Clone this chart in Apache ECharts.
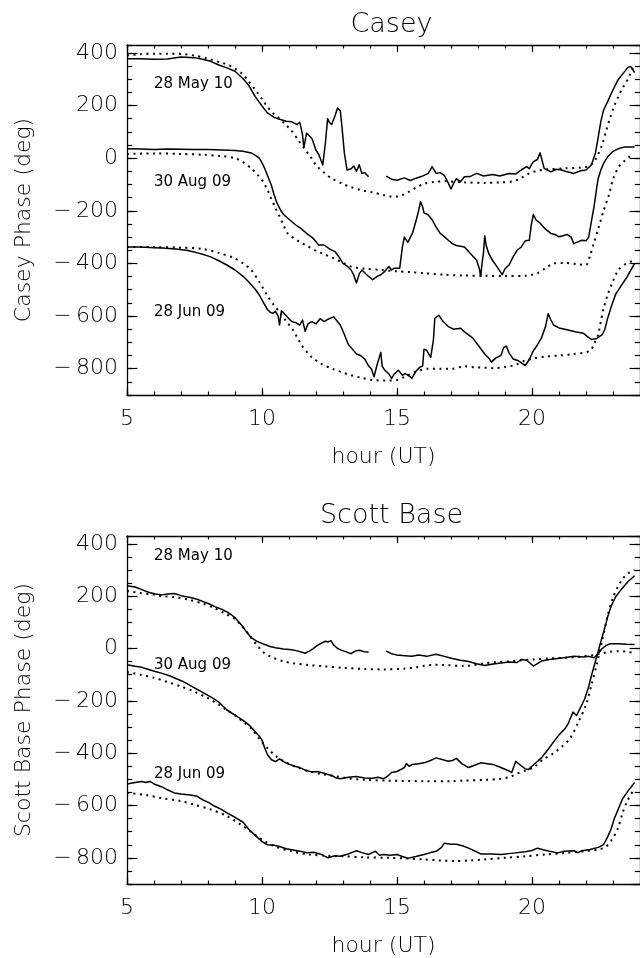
<!DOCTYPE html>
<html>
<head>
<meta charset="utf-8">
<title>Casey / Scott Base phase</title>
<script src="https://cdn.jsdelivr.net/npm/echarts@6.0.0/dist/echarts.min.js"></script>
<style>
  html, body { margin: 0; padding: 0; background: #fff; }
  #chart { width: 640px; height: 958px; }
</style>
</head>
<body>
<div id="chart"></div>
<script>
// ---- axis ranges ----
const hourRange = [5, 24];
const phaseRange = [-900, 430];

// ---- panel titles and labels ----
const panelTitles = ['Casey', 'Scott Base'];
const phaseNames = ['Casey Phase (deg)', 'Scott Base Phase (deg)'];
const hourName = 'hour (UT)';
const dateNames = ['28 May 10', '30 Aug 09', '28 Jun 09'];
// anchor of each date label: [hour, phase]
const caseyDateAnchors = [[6, 280], [6, -91], [6, -585]];
const scottDateAnchors = [[6, 353], [6, -63], [6, -480]];

// ---- Casey: observed phase (solid) and modelled phase (dotted), [hour, deg] ----
const caseyMay10 = [[5.0,378],[5.5,378],[6.0,376],[6.5,377],[7.0,384],[7.5,382],[7.8,376],[8.1,368],[8.4,354],[8.7,343],[9.0,330],[9.3,302],[9.5,278],[9.75,234],[10.0,198],[10.2,172],[10.45,155],[10.65,148],[10.9,140],[11.1,138],[11.3,128],[11.4,136],[11.5,90],[11.55,40],[11.65,95],[11.75,85],[11.85,75],[12.0,30],[12.1,15],[12.25,-26],[12.35,60],[12.43,150],[12.5,135],[12.58,128],[12.7,160],[12.8,191],[12.9,180],[12.97,110],[13.05,20],[13.15,-45],[13.3,-40],[13.4,-30],[13.5,-50],[13.6,-25],[13.7,-58],[13.8,-55],[13.95,-71],[14.2,null],[14.6,-68],[14.8,-80],[15.0,-84],[15.27,-75],[15.5,-85],[15.7,-76],[15.9,-70],[16.16,-58],[16.3,-32],[16.45,-58],[16.6,-55],[16.75,-65],[16.9,-95],[17.0,-117],[17.1,-95],[17.2,-78],[17.35,-90],[17.5,-71],[17.7,-70],[17.95,-58],[18.2,-68],[18.55,-62],[18.8,-68],[19.15,-58],[19.4,-60],[19.6,-45],[19.8,-32],[19.9,-40],[20.05,-13],[20.2,-5],[20.3,20],[20.45,-39],[20.7,-52],[20.9,-42],[21.1,-45],[21.3,-52],[21.55,-58],[21.8,-48],[22.0,-45],[22.2,-26],[22.35,20],[22.45,78],[22.55,140],[22.65,182],[22.8,215],[23.0,260],[23.2,300],[23.4,325],[23.55,345],[23.66,348],[23.8,325]];
const caseyMay10Model = [[5.0,390],[5.5,395],[6.0,397],[6.5,397],[7.0,396],[7.5,390],[8.0,378],[8.5,362],[8.7,357],[9.0,340],[9.3,318],[9.5,292],[9.75,260],[10.0,225],[10.2,195],[10.4,172],[10.65,150],[10.9,125],[11.1,104],[11.3,75],[11.55,39],[11.8,5],[12.0,-26],[12.3,-55],[12.6,-78],[13.0,-98],[13.3,-110],[13.7,-122],[14.1,-130],[14.5,-140],[14.8,-146],[15.0,-146],[15.2,-140],[15.4,-130],[15.7,-112],[16.0,-97],[16.4,-90],[16.75,-88],[17.5,-92],[18.25,-94],[18.8,-92],[19.3,-88],[19.6,-75],[19.9,-58],[20.2,-48],[20.5,-43],[21.2,-39],[21.8,-36],[22.1,-30],[22.3,-13],[22.45,15],[22.6,52],[22.75,105],[22.9,156],[23.05,200],[23.2,234],[23.35,266],[23.55,300],[23.7,335],[23.8,350]];
const caseyAug09 = [[5.0,36],[5.5,35],[6.0,33],[6.5,35],[7.0,34],[7.5,33],[8.0,33],[8.5,31],[9.0,29],[9.3,26],[9.6,20],[9.8,8],[9.9,0],[10.0,-18],[10.1,-39],[10.2,-65],[10.35,-104],[10.45,-140],[10.55,-169],[10.7,-200],[10.8,-214],[11.0,-232],[11.25,-254],[11.45,-268],[11.7,-290],[11.9,-305],[12.1,-330],[12.3,-330],[12.5,-345],[12.7,-355],[12.85,-375],[13.0,-400],[13.15,-410],[13.3,-425],[13.4,-445],[13.5,-474],[13.6,-440],[13.7,-425],[13.9,-445],[14.1,-462],[14.25,-450],[14.4,-443],[14.55,-430],[14.7,-412],[14.8,-425],[14.9,-418],[15.1,-418],[15.2,-338],[15.27,-300],[15.4,-320],[15.57,-286],[15.7,-240],[15.8,-200],[15.87,-165],[15.95,-185],[16.0,-208],[16.15,-215],[16.3,-234],[16.45,-262],[16.6,-286],[16.75,-298],[16.9,-312],[17.05,-325],[17.2,-332],[17.4,-336],[17.5,-338],[17.7,-360],[17.95,-388],[18.05,-420],[18.1,-449],[18.15,-400],[18.2,-363],[18.25,-295],[18.3,-330],[18.4,-363],[18.55,-390],[18.7,-412],[18.9,-443],[19.0,-420],[19.15,-406],[19.3,-375],[19.45,-350],[19.6,-338],[19.75,-314],[19.9,-312],[19.98,-250],[20.05,-214],[20.15,-235],[20.3,-247],[20.5,-270],[20.7,-286],[20.85,-290],[21.0,-299],[21.15,-295],[21.3,-290],[21.45,-300],[21.55,-325],[21.7,-318],[21.85,-312],[22.0,-314],[22.1,-300],[22.2,-240],[22.3,-182],[22.4,-110],[22.45,-78],[22.55,-45],[22.65,-20],[22.8,5],[23.0,26],[23.2,36],[23.4,42],[23.8,42]];
const caseyAug09Model = [[5.0,16],[6.0,18],[7.0,16],[7.8,13],[8.5,8],[9.0,0],[9.3,-15],[9.6,-39],[9.85,-65],[10.05,-91],[10.2,-120],[10.35,-156],[10.5,-190],[10.65,-221],[10.8,-255],[10.95,-286],[11.2,-305],[11.4,-318],[11.7,-335],[12.0,-352],[12.3,-365],[12.6,-378],[13.0,-398],[13.3,-412],[13.8,-420],[14.4,-425],[15.0,-430],[15.5,-433],[16.0,-437],[16.75,-443],[17.5,-446],[18.25,-447],[19.0,-448],[19.75,-447],[20.0,-443],[20.2,-437],[20.5,-418],[20.8,-400],[21.2,-398],[21.6,-402],[22.0,-406],[22.15,-370],[22.3,-320],[22.45,-270],[22.65,-200],[22.85,-140],[23.0,-80],[23.2,-35],[23.4,-13],[23.6,5],[23.8,13]];
const caseyJun09 = [[5.0,-338],[5.5,-338],[6.0,-340],[6.3,-341],[6.8,-345],[7.2,-350],[7.5,-357],[7.8,-365],[8.1,-375],[8.4,-390],[8.7,-406],[9.0,-425],[9.3,-449],[9.5,-470],[9.75,-498],[9.9,-520],[10.05,-548],[10.2,-575],[10.3,-585],[10.4,-590],[10.5,-582],[10.6,-600],[10.65,-634],[10.72,-580],[10.8,-588],[10.95,-605],[11.1,-621],[11.25,-625],[11.4,-634],[11.5,-615],[11.6,-658],[11.7,-630],[11.85,-621],[12.0,-630],[12.15,-610],[12.3,-621],[12.45,-612],[12.65,-603],[12.75,-615],[12.9,-634],[13.05,-670],[13.2,-708],[13.3,-720],[13.5,-744],[13.65,-750],[13.8,-763],[13.95,-790],[14.05,-800],[14.15,-831],[14.25,-790],[14.4,-738],[14.45,-790],[14.55,-806],[14.7,-820],[14.8,-837],[14.9,-820],[15.05,-806],[15.2,-825],[15.3,-818],[15.45,-828],[15.55,-837],[15.7,-810],[15.85,-794],[15.95,-790],[16.0,-726],[16.1,-730],[16.25,-757],[16.35,-690],[16.4,-609],[16.55,-597],[16.7,-620],[16.9,-640],[17.1,-650],[17.35,-646],[17.5,-660],[17.8,-683],[18.0,-710],[18.25,-744],[18.4,-760],[18.5,-775],[18.65,-760],[18.85,-750],[18.95,-720],[19.05,-714],[19.15,-740],[19.3,-763],[19.5,-770],[19.75,-788],[19.9,-765],[20.05,-732],[20.2,-710],[20.35,-683],[20.5,-640],[20.6,-591],[20.7,-615],[20.8,-634],[21.0,-645],[21.3,-652],[21.6,-660],[21.9,-665],[22.05,-678],[22.2,-689],[22.4,-685],[22.6,-671],[22.7,-650],[22.8,-609],[22.95,-560],[23.1,-517],[23.3,-485],[23.5,-455],[23.8,-400]];
const caseyJun09Model = [[5.0,-338],[6.0,-338],[7.0,-340],[7.8,-345],[8.4,-360],[9.0,-381],[9.3,-400],[9.6,-425],[9.9,-470],[10.2,-523],[10.45,-560],[10.65,-585],[10.9,-620],[11.1,-646],[11.3,-680],[11.45,-708],[11.65,-735],[11.85,-757],[12.2,-782],[12.6,-800],[13.0,-815],[13.3,-825],[13.7,-835],[14.1,-843],[14.6,-845],[15.0,-843],[15.3,-830],[15.55,-818],[15.85,-806],[16.15,-800],[16.6,-800],[17.05,-800],[17.5,-791],[17.9,-795],[18.25,-796],[18.6,-798],[19.0,-794],[19.4,-785],[19.75,-769],[20.1,-760],[20.5,-754],[21.0,-750],[21.5,-745],[22.15,-732],[22.3,-705],[22.45,-671],[22.55,-620],[22.65,-572],[22.8,-520],[22.95,-480],[23.2,-425],[23.5,-400],[23.8,-388]];

// ---- Scott Base: observed phase (solid) and modelled phase (dotted), [hour, deg] ----
const scottMay10 = [[5.0,240],[5.3,235],[5.55,225],[5.8,215],[6.05,208],[6.3,205],[6.5,208],[6.75,210],[7.0,202],[7.35,195],[7.6,188],[7.8,180],[8.05,170],[8.25,160],[8.5,150],[8.7,140],[8.85,130],[9.0,118],[9.15,100],[9.3,82],[9.45,60],[9.6,42],[9.8,28],[10.05,17],[10.3,8],[10.5,3],[10.8,-2],[11.1,-5],[11.35,-10],[11.6,-18],[11.75,-10],[11.9,0],[12.05,12],[12.2,20],[12.35,28],[12.45,25],[12.55,30],[12.65,14],[12.8,0],[12.95,-7],[13.1,-12],[13.3,-20],[13.45,-10],[13.6,-7],[13.8,-12],[13.95,-14],[14.2,null],[14.6,-10],[14.8,-20],[15.0,-25],[15.3,-28],[15.55,-30],[15.8,-25],[16.1,-30],[16.45,-22],[16.75,-30],[17.05,-38],[17.35,-45],[17.65,-50],[17.95,-58],[18.25,-65],[18.5,-60],[18.85,-55],[19.15,-52],[19.45,-53],[19.6,-42],[19.8,-45],[20.05,-67],[20.2,-58],[20.35,-48],[20.65,-42],[20.95,-38],[21.25,-34],[21.55,-30],[21.9,-32],[22.1,-30],[22.3,-35],[22.45,-20],[22.6,0],[22.75,12],[22.9,18],[23.2,18],[23.5,16],[23.8,15]];
const scottMay10Model = [[5.0,220],[5.5,212],[6.0,206],[6.3,200],[6.8,196],[7.35,185],[7.8,172],[8.25,154],[8.6,135],[9.0,112],[9.3,80],[9.6,42],[9.8,15],[10.05,-14],[10.4,-35],[10.8,-49],[11.2,-57],[11.7,-63],[12.3,-68],[13.0,-74],[13.8,-78],[14.5,-80],[15.27,-77],[15.7,-72],[16.0,-66],[16.4,-62],[16.75,-63],[17.5,-67],[18.25,-56],[18.7,-52],[19.15,-49],[19.6,-45],[20.05,-42],[20.6,-38],[21.25,-35],[21.7,-32],[22.0,-28],[22.3,-25],[22.6,-18],[22.9,-12],[23.2,-10],[23.5,-12],[23.8,-18]];
const scottAug09 = [[5.0,-62],[5.3,-68],[5.55,-72],[5.8,-80],[6.05,-88],[6.3,-95],[6.6,-105],[7.05,-125],[7.4,-145],[7.8,-168],[8.1,-185],[8.4,-205],[8.7,-235],[9.0,-255],[9.3,-275],[9.55,-295],[9.75,-318],[9.9,-335],[10.0,-350],[10.1,-380],[10.2,-405],[10.35,-425],[10.5,-432],[10.65,-422],[10.8,-432],[10.95,-440],[11.2,-450],[11.4,-455],[11.6,-465],[11.85,-472],[12.05,-470],[12.3,-477],[12.6,-486],[12.75,-495],[12.9,-498],[13.2,-492],[13.5,-489],[13.8,-495],[14.1,-496],[14.3,-492],[14.5,-498],[14.65,-488],[14.8,-474],[15.0,-470],[15.27,-455],[15.35,-440],[15.45,-450],[15.57,-443],[15.8,-440],[16.0,-437],[16.2,-430],[16.45,-418],[16.7,-425],[16.9,-431],[17.05,-428],[17.2,-420],[17.4,-440],[17.65,-455],[17.9,-445],[18.1,-437],[18.35,-440],[18.55,-443],[18.85,-455],[19.15,-468],[19.25,-474],[19.35,-445],[19.4,-431],[19.5,-440],[19.6,-448],[19.75,-460],[19.87,-462],[20.05,-445],[20.35,-418],[20.6,-385],[20.8,-357],[21.0,-330],[21.22,-307],[21.35,-285],[21.45,-260],[21.52,-243],[21.65,-256],[21.8,-225],[21.95,-193],[22.1,-145],[22.2,-104],[22.32,-60],[22.44,-15],[22.56,30],[22.68,73],[22.8,120],[22.93,162],[23.1,198],[23.3,225],[23.55,255],[23.8,278]];
const scottAug09Model = [[5.0,-90],[5.5,-100],[6.0,-112],[6.5,-128],[7.0,-145],[7.5,-165],[8.0,-190],[8.4,-215],[8.7,-235],[9.0,-255],[9.3,-280],[9.6,-305],[9.9,-345],[10.2,-381],[10.5,-410],[10.8,-431],[11.2,-450],[11.7,-468],[12.2,-480],[12.6,-486],[13.2,-496],[13.8,-502],[14.7,-505],[16.0,-507],[17.0,-507],[17.5,-505],[18.25,-502],[18.85,-498],[19.2,-490],[19.45,-478],[19.8,-465],[20.05,-455],[20.4,-425],[20.8,-400],[21.1,-375],[21.4,-345],[21.7,-285],[22.0,-215],[22.2,-140],[22.4,-60],[22.6,30],[22.8,125],[23.0,195],[23.2,240],[23.4,272],[23.6,290],[23.8,300]];
const scottJun09 = [[5.0,-518],[5.3,-512],[5.55,-508],[5.7,-512],[5.85,-508],[6.05,-520],[6.3,-529],[6.5,-540],[6.75,-552],[7.0,-556],[7.35,-560],[7.6,-565],[7.8,-578],[8.05,-590],[8.25,-603],[8.5,-615],[8.7,-628],[9.0,-645],[9.3,-664],[9.5,-690],[9.75,-714],[10.0,-738],[10.2,-750],[10.45,-752],[10.65,-757],[10.9,-765],[11.1,-769],[11.4,-775],[11.7,-781],[11.9,-779],[12.15,-785],[12.45,-800],[12.7,-792],[12.9,-794],[13.2,-785],[13.5,-773],[13.7,-780],[13.95,-787],[14.2,-775],[14.35,-790],[14.5,-787],[14.75,-790],[15.0,-787],[15.2,-795],[15.4,-802],[15.7,-795],[16.0,-787],[16.25,-780],[16.45,-775],[16.65,-760],[16.75,-744],[17.0,-748],[17.2,-748],[17.45,-755],[17.65,-763],[17.9,-775],[18.1,-785],[18.5,-785],[18.85,-787],[19.3,-782],[19.75,-777],[20.0,-772],[20.2,-763],[20.45,-770],[20.65,-775],[20.95,-781],[21.2,-775],[21.55,-773],[21.7,-780],[21.85,-773],[22.15,-768],[22.45,-760],[22.65,-750],[22.8,-720],[22.93,-690],[23.05,-650],[23.17,-620],[23.35,-575],[23.54,-547],[23.8,-512]];
const scottJun09Model = [[5.0,-551],[5.7,-560],[6.3,-572],[7.0,-583],[7.5,-597],[8.1,-615],[8.7,-640],[9.2,-672],[9.6,-701],[10.0,-730],[10.5,-757],[11.1,-775],[11.7,-787],[12.4,-792],[13.0,-794],[13.8,-798],[14.7,-800],[15.4,-803],[16.0,-806],[16.6,-810],[17.2,-812],[17.7,-810],[18.25,-806],[19.0,-800],[19.75,-794],[20.5,-787],[21.25,-781],[21.9,-775],[22.45,-768],[22.7,-760],[22.93,-735],[23.17,-690],[23.35,-630],[23.54,-580],[23.8,-535]];

// ---- drawing ----
const FONT = "'DejaVu Sans Light', 'DejaVu Sans', 'Liberation Sans', sans-serif";
const FONT_WEIGHT = 200;
const INK = '#000';
const plotLeft = 127, plotWidth = 519, plotHeight = 350;
const panelTops = [45, 536];

const chart = echarts.init(document.getElementById('chart'), null, { renderer: 'canvas' });

function fmtPhase(v) {
  return v < 0 ? '\u2212\u2009' + Math.abs(v) : String(v);
}

const grids = [], xAxes = [], yAxes = [], series = [], titles = [];

function addPanel(gi, name, obs, models, dateAnchors) {
  grids.push({ left: plotLeft, top: panelTops[gi], width: plotWidth, height: plotHeight, containLabel: false });
  const line = { onZero: false, lineStyle: { color: INK, width: 1.3 } };
  const noLine = { show: false, onZero: false };
  const tick = (len) => ({ show: true, inside: true, length: len, lineStyle: { color: INK, width: 1.2 } });
  const txt = (size) => ({ color: INK, fontFamily: FONT, fontWeight: FONT_WEIGHT, fontSize: size });
  const xBase = { type: 'value', gridIndex: gi, min: hourRange[0], max: hourRange[1], splitLine: { show: false } };
  const yBase = { type: 'value', gridIndex: gi, min: phaseRange[0], max: phaseRange[1], splitLine: { show: false } };

  // x axes: bottom major/minor, top major/minor
  xAxes.push(Object.assign({}, xBase, {
    position: 'bottom', interval: 5, axisLine: line, axisTick: tick(7),
    axisLabel: Object.assign(txt(22), { margin: 13, showMaxLabel: false }),
    name: hourName, nameLocation: 'middle', nameGap: 51,
    nameTextStyle: txt(22)
  }));
  xAxes.push(Object.assign({}, xBase, { position: 'bottom', interval: 1, axisLine: noLine, axisTick: tick(3.5), axisLabel: { show: false } }));
  xAxes.push(Object.assign({}, xBase, { position: 'top', interval: 5, axisLine: line, axisTick: tick(7), axisLabel: { show: false } }));
  xAxes.push(Object.assign({}, xBase, { position: 'top', interval: 1, axisLine: noLine, axisTick: tick(3.5), axisLabel: { show: false } }));

  // y axes: left major/minor, right major/minor
  yAxes.push(Object.assign({}, yBase, {
    position: 'left', splitNumber: 7, axisLine: line, axisTick: tick(10.4),
    axisLabel: Object.assign(txt(22), { margin: 9, formatter: fmtPhase, showMinLabel: false, showMaxLabel: false }),
    name: name, nameLocation: 'middle', nameGap: 92,
    nameTextStyle: txt(22)
  }));
  yAxes.push(Object.assign({}, yBase, { position: 'left', interval: 50, axisLine: noLine, axisTick: tick(5.2), axisLabel: { show: false } }));
  yAxes.push(Object.assign({}, yBase, { position: 'right', splitNumber: 7, axisLine: line, axisTick: tick(10.4), axisLabel: { show: false } }));
  yAxes.push(Object.assign({}, yBase, { position: 'right', interval: 50, axisLine: noLine, axisTick: tick(5.2), axisLabel: { show: false } }));

  const xi = gi * 4, yi = gi * 4;
  obs.forEach((d) => series.push({
    type: 'line', xAxisIndex: xi, yAxisIndex: yi, data: d, showSymbol: false, symbol: 'none',
    connectNulls: false, clip: true, silent: true,
    lineStyle: { color: INK, width: 1.5, join: 'round' }
  }));
  models.forEach((d) => series.push({
    type: 'line', xAxisIndex: xi, yAxisIndex: yi, data: d, showSymbol: false, symbol: 'none',
    smooth: 0.3, clip: true, silent: true,
    lineStyle: { color: INK, width: 2, type: [2, 4.5], cap: 'butt' }
  }));
  series.push({
    type: 'scatter', xAxisIndex: xi, yAxisIndex: yi, symbolSize: 0, silent: true,
    itemStyle: { opacity: 1, color: INK },
    data: dateAnchors.map((p, i) => ({ value: p, label: { formatter: dateNames[i] } })),
    label: { show: true, position: 'right', distance: 0, color: INK, opacity: 1, fontFamily: "'DejaVu Sans', sans-serif", fontSize: 15 }
  });
}

addPanel(0, phaseNames[0], [caseyMay10, caseyAug09, caseyJun09], [caseyMay10Model, caseyAug09Model, caseyJun09Model], caseyDateAnchors);
addPanel(1, phaseNames[1], [scottMay10, scottAug09, scottJun09], [scottMay10Model, scottAug09Model, scottJun09Model], scottDateAnchors);

panelTitles.forEach((t, i) => titles.push({
  text: t, left: plotLeft + plotWidth / 2, top: panelTops[i] - 39, textAlign: 'center',
  textStyle: { color: INK, fontFamily: FONT, fontSize: 27, fontWeight: FONT_WEIGHT }
}));

chart.setOption({
  animation: false,
  backgroundColor: '#fff',
  title: titles,
  grid: grids,
  xAxis: xAxes,
  yAxis: yAxes,
  series: series
});
</script>
</body>
</html>
